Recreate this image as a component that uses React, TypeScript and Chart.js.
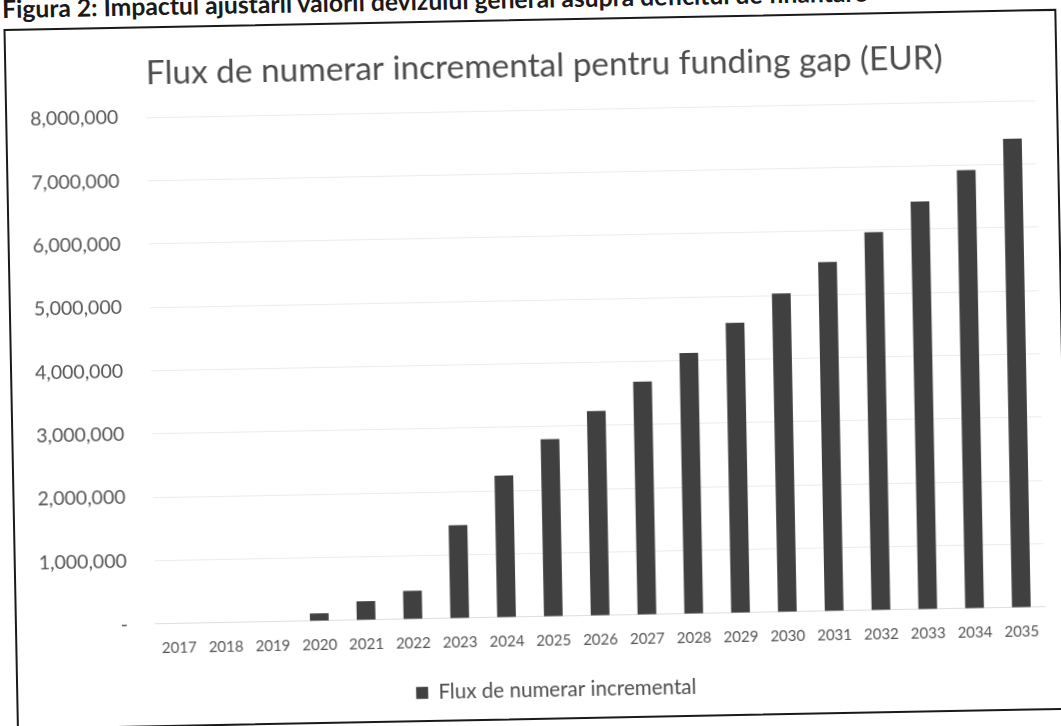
import React, { useEffect, useRef } from "react";
import { Chart, registerables } from "chart.js";

Chart.register(...registerables);

// ---- data ----
const captionText =
  "Figura 2: Impactul ajustarii valorii devizului general asupra deficitul de finantare";
const chartTitle = "Flux de numerar incremental pentru funding gap (EUR)";
const seriesLabel = "Flux de numerar incremental";
const years = [
  "2017", "2018", "2019", "2020", "2021", "2022", "2023", "2024", "2025", "2026",
  "2027", "2028", "2029", "2030", "2031", "2032", "2033", "2034", "2035",
];
const cashFlow = [
  0, 0, 0, 120000, 300000, 450000, 1470000, 2240000, 2800000, 3230000,
  3680000, 4120000, 4580000, 5030000, 5510000, 5970000, 6440000, 6920000, 7400000,
];
const yMin = 0;
const yMax = 8000000;
const yStep = 1000000;
const zeroTickLabel = "-";

const FONT = "Lato, 'Open Sans', sans-serif";
const CANVAS_W = 1072;
const CANVAS_H = 697;

export default function App() {
  const ref = useRef<HTMLCanvasElement | null>(null);

  useEffect(() => {
    if (!ref.current) return;
    const chart = new Chart(ref.current, {
      type: "bar",
      data: {
        labels: years,
        datasets: [
          {
            label: seriesLabel,
            data: cashFlow,
            backgroundColor: "#404040",
            borderWidth: 0,
            barPercentage: 0.4,
            categoryPercentage: 1,
            yAxisID: "y",
          },
        ],
      },
      options: {
        animation: false,
        responsive: false,
        devicePixelRatio: 1,
        layout: { padding: { left: 0, right: 0, top: 0, bottom: 7 } },
        plugins: {
          title: {
            display: true,
            text: chartTitle,
            color: "#4d4d4d",
            font: { family: FONT, size: 33.4, weight: "normal", lineHeight: 1.2 },
            padding: { top: 25, bottom: 24 },
          },
          legend: {
            display: true,
            position: "bottom",
            labels: {
              color: "#4d4d4d",
              font: { family: FONT, size: 20.6 },
              boxWidth: 12,
              boxHeight: 12,
              padding: 9,
            },
          },
          tooltip: { enabled: false },
        },
        scales: {
          x: {
            grid: { display: false, drawTicks: false },
            border: { display: true, color: "#dedede", width: 1 },
            ticks: {
              color: "#555555",
              font: { family: FONT, size: 15 },
              padding: 15,
              maxRotation: 0,
              autoSkip: false,
            },
            afterFit: (s: any) => {
              s.height = 54.5;
            },
          },
          y: {
            position: "left",
            min: yMin,
            max: yMax,
            grid: { color: "#ececec", drawTicks: false, lineWidth: 1 },
            border: { display: false },
            ticks: {
              stepSize: yStep,
              color: "#555555",
              font: { family: FONT, size: 19.5 },
              padding: 27.6,
              callback: (v: any) =>
                Number(v) === 0 ? zeroTickLabel : Number(v).toLocaleString("en-US"),
            },
            afterFit: (s: any) => {
              s.width = 136.6;
            },
          },
          spacer: {
            type: "linear",
            position: "right",
            display: true,
            grid: { display: false, drawTicks: false },
            border: { display: false },
            ticks: { display: false },
            afterFit: (s: any) => {
              s.width = 46;
            },
          },
        },
      },
    });
    return () => chart.destroy();
  }, []);

  return (
    <div style={{ position: "fixed", inset: 0, overflow: "hidden", background: "#fff" }}>
      <div
        style={{
          position: "absolute",
          left: 0,
          top: 0,
          width: 1061,
          height: 726,
          transform: "rotate(-1.1deg)",
          transformOrigin: "530.5px 363px",
        }}
      >
        <div
          style={{
            position: "absolute",
            left: 9,
            top: -16,
            fontFamily: FONT,
            fontWeight: 700,
            fontSize: 24.7,
            lineHeight: "29.4px",
            color: "#1a1a1a",
            whiteSpace: "nowrap",
          }}
        >
          {captionText}
        </div>
        <div
          style={{
            position: "absolute",
            left: 10,
            top: 19,
            width: 1053,
            height: 701,
            boxSizing: "border-box",
            border: "2px solid #1a1a1a",
          }}
        />
        <canvas
          ref={ref}
          width={CANVAS_W}
          height={CANVAS_H}
          style={{ position: "absolute", left: 14, top: 21, width: CANVAS_W, height: CANVAS_H }}
        />
      </div>
    </div>
  );
}
